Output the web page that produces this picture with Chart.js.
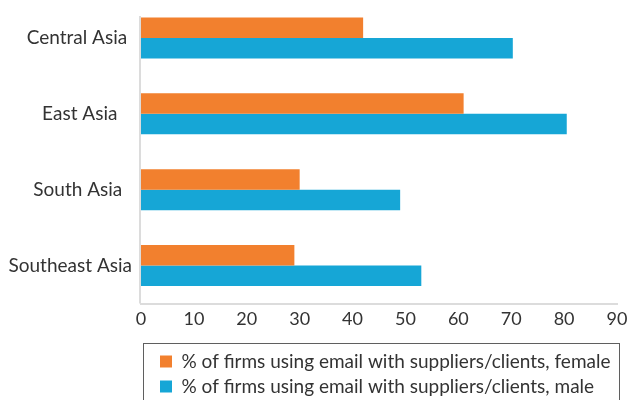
<!DOCTYPE html>
<html>
<head>
<meta charset="utf-8">
<script src="https://cdn.jsdelivr.net/npm/chart.js@4/dist/chart.umd.min.js"></script>
<style>
  html, body { margin: 0; padding: 0; background: #fff; overflow: hidden; }
  #wrap { width: 629px; height: 400px; overflow: hidden; }
</style>
</head>
<body>
<div id="wrap"><canvas id="myChart-Email" width="629" height="406"></canvas></div>
<script>
const regions = ['Central Asia ', 'East Asia   ', 'South Asia  ', 'Southeast Asia'];
const femaleValues = [42, 61, 30, 29];
const maleValues = [70.3, 80.5, 49, 53];
const xTicks = [0, 10, 20, 30, 40, 50, 60, 70, 80, 90];

// legend sits left-aligned inside a framed box; y axis line starts at the first bar
const legendFrame = {
  id: 'legendFrame',
  afterLayout(chart) {
    chart.legend.left = 154;
  },
  beforeDatasetsDraw(chart) {
    const ctx = chart.ctx;
    const area = chart.chartArea;
    ctx.save();
    ctx.strokeStyle = '#dcdcdc';
    ctx.lineWidth = 2;
    ctx.beginPath();
    ctx.moveTo(area.left - 1, area.top + 16);
    ctx.lineTo(area.left - 1, area.bottom);
    ctx.stroke();
    ctx.restore();
  },
  afterDraw(chart) {
    const ctx = chart.ctx;
    ctx.save();
    ctx.strokeStyle = '#5f5f5f';
    ctx.lineWidth = 1;
    ctx.strokeRect(143.5, 343.5, 476, 70);
    ctx.restore();
  }
};

const ctxEmail = document.getElementById('myChart-Email');

new Chart(ctxEmail, {
  type: 'bar',
  data: {
    labels: regions,
    datasets: [
      {
        label: '% of firms using email with suppliers/clients, female',
        data: femaleValues,
        backgroundColor: '#f2802e',
        borderWidth: 0,
        barPercentage: 1,
        categoryPercentage: 0.54
      }, {
        label: '% of firms using email with suppliers/clients, male',
        data: maleValues,
        backgroundColor: '#16a6d6',
        borderWidth: 0,
        barPercentage: 1,
        categoryPercentage: 0.54
      }]
  },
  options: {
    indexAxis: 'y',
    responsive: false,
    animation: false,
    layout: {
      padding: { top: 0, right: 12, bottom: 0, left: 0 }
    },
    scales: {
      x: {
        min: 0,
        max: 90,
        afterBuildTicks: (scale) => { scale.ticks = xTicks.map(v => ({ value: v })); },
        grid: { display: false, drawTicks: false },
        border: { color: '#dcdcdc', width: 2 },
        ticks: {
          padding: 5,
          color: '#333',
          font: { family: 'Lato', size: 18 }
        },
        afterFit: (scale) => {
          scale.height += 10.9;
          scale.paddingRight = 0;
        }
      },
      y: {
        grid: { display: false, drawTicks: false },
        border: { display: false },
        ticks: {
          padding: 9,
          color: '#333',
          font: { family: 'Lato', size: 19 }
        },
        afterFit: (scale) => {
          scale.width = 141;
          scale.paddingTop = 0;
          scale.paddingBottom = 0;
        }
      }
    },
    plugins: {
      tooltip: { enabled: false },
      legend: {
        position: 'bottom',
        align: 'start',
        labels: {
          boxWidth: 12,
          boxHeight: 12,
          padding: 6,
          color: '#333',
          font: { family: 'Lato', size: 19 }
        }
      }
    }
  },
  plugins: [legendFrame]
});
</script>
</body>
</html>
